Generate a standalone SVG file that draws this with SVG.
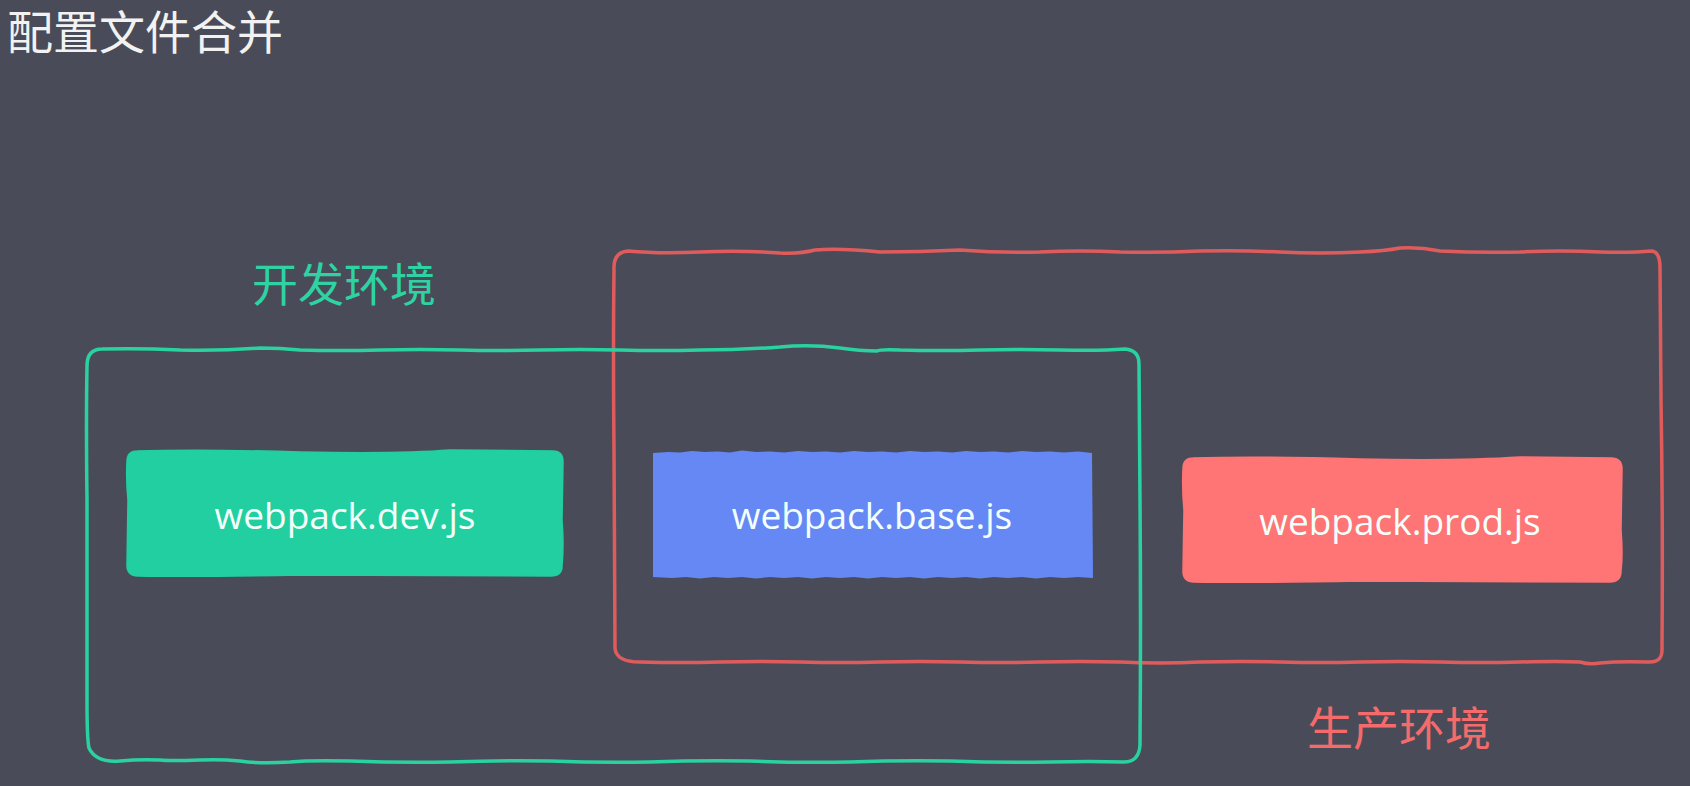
<svg xmlns="http://www.w3.org/2000/svg" width="1690" height="786" viewBox="0 0 1690 786">
  <style>
    .cjk { font-family: "Noto Sans CJK SC", "Noto Sans", sans-serif; font-size: 46px; }
    .node-text { font-family: "Open Sans", "Noto Sans", sans-serif; font-size: 37px; text-anchor: middle; fill: #f3fffb; }
    .outline { fill: none; stroke-width: 3.5; stroke-linejoin: round; stroke-linecap: round; }
  </style>
  <rect x="0" y="0" width="1690" height="786" fill="#494c58"/>

  <g id="title">
    <text class="cjk" x="7" y="49" fill="#f2f2f2">配置文件合并</text>
  </g>

  <g id="group-prod">
    <path class="outline" stroke="#e05c5c" d="M614,270 Q613,252 628,251 Q660,254 700,252 Q740,250 780,253 Q800,254 815,250 Q840,248 880,252 Q920,252 960,250 Q1000,253 1040,252 Q1080,250 1120,252 Q1160,253 1200,251 Q1240,250 1280,252 Q1320,254 1360,252 Q1385,251 1400,248 Q1420,247 1440,251 Q1480,253 1520,252 Q1560,250 1600,252 Q1630,253 1652,251 Q1660,252 1660,268 L1661,400 Q1663,520 1662,650 Q1662,663 1648,662 Q1620,661 1600,663 Q1590,665 1580,662 Q1560,661 1520,662 Q1480,663 1440,662 Q1400,661 1360,662 Q1320,663 1280,662 Q1240,661 1200,662 Q1160,664 1120,662 Q1080,661 1040,662 Q1000,663 960,662 Q920,661 880,662 Q840,663 800,662 Q760,661 720,662 Q680,663 640,662 Q616,662 615,648 L614,450 Q613,350 614,270 Z"/>
    <text class="cjk" x="1307" y="745" fill="#f56b6b">生产环境</text>
  </g>

  <g id="group-dev">
    <path class="outline" stroke="#2ad2a0" d="M87,366 Q87,349 102,349 Q140,348 180,350 Q220,351 260,348 Q280,348 300,350 Q340,351 380,350 Q420,349 460,350 Q500,351 540,350 Q580,349 620,350 Q660,351 700,350 Q740,350 780,347 Q810,344 840,348 Q860,351 877,351 Q880,349 900,350 Q940,351 980,350 Q1020,349 1060,350 Q1100,351 1125,349 Q1139,350 1139,364 L1140,500 Q1141,620 1140,745 Q1139,762 1124,762 Q1090,761 1050,762 Q1000,763 950,761 Q900,760 850,762 Q800,763 750,761 Q700,760 650,762 Q600,763 550,761 Q500,760 450,762 Q400,763 350,761 Q310,760 290,762 Q260,764 240,761 Q220,759 200,760 Q170,761 160,760 Q140,759 120,761 Q96,763 89,748 Q87,740 87,700 L87,500 Q86,420 87,366 Z"/>
    <text class="cjk" x="252" y="301" fill="#2fd3a3">开发环境</text>
  </g>

  <g id="node-dev">
    <path fill="#22cfa0" stroke="#22cfa0" stroke-width="1.5" d="M137,451 Q200,449 300,452 Q400,454 450,450 L553,451 Q563,451 563,462 L562,520 Q564,545 562,566 Q562,576 551,576 L300,575 Q200,577 138,576 Q127,576 127,565 L128,500 Q126,480 127,462 Q127,451 137,451 Z"/>
    <text class="node-text" x="345" y="529">webpack.dev.js</text>
  </g>

  <g id="node-base">
    <path fill="#6688f5" d="M653,453 L668,452 L680,452.5 L692,451 L705,452 L718,451.5 L730,452.5 L742,450.5 L756,452 L770,451.5 L784,452.5 L798,451 L812,452 L826,451.5 L840,452.5 L854,451 L868,452 L882,451.5 L896,452.5 L910,451 L924,452 L938,451.5 L952,452.5 L966,451 L980,452 L994,451.5 L1008,452.5 L1022,451 L1036,452 L1050,451.5 L1064,452.5 L1078,451.5 L1092,453 L1093,578 L1078,577 L1064,578 L1050,577 L1036,578.5 L1022,577 L1008,578 L994,577 L980,578.5 L966,577 L952,578 L938,577 L924,578.5 L910,577 L896,578 L882,577 L868,578.5 L854,577 L840,578 L826,577 L812,578.5 L798,577 L784,578 L770,577 L756,578.5 L742,577 L728,578 L714,577 L700,578.5 L686,577 L672,578 L653,577 Z"/>
    <text class="node-text" x="872" y="529">webpack.base.js</text>
  </g>

  <g id="node-prod">
    <path fill="#ff7474" stroke="#ff7474" stroke-width="1.5" d="M1193,458 Q1260,456 1360,459 Q1460,461 1520,457 L1611,458 Q1622,458 1622,469 L1621,530 Q1623,555 1621,571 Q1621,582 1610,582 L1360,581 Q1260,583 1194,582 Q1183,582 1183,571 L1184,510 Q1182,490 1183,469 Q1183,458 1193,458 Z"/>
    <text class="node-text" x="1400" y="535">webpack.prod.js</text>
  </g>

  <g id="connectors"/>
</svg>
